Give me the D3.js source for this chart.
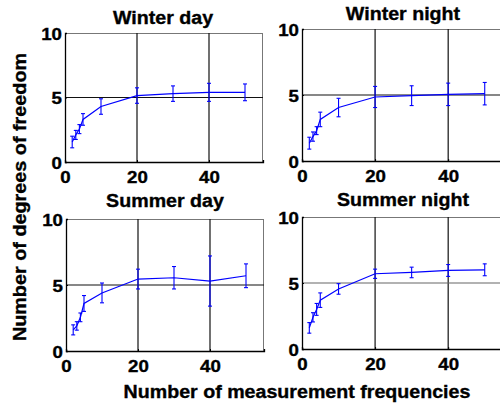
<!DOCTYPE html>
<html><head><meta charset="utf-8">
<script src="https://cdn.jsdelivr.net/npm/d3@7"></script>
<style>
html,body{margin:0;padding:0;background:#fff;overflow:hidden}
text{font-family:"Liberation Sans",Arial,sans-serif;font-weight:bold;fill:#000;stroke:#000;stroke-width:0.35px}
</style></head>
<body><svg id="c" width="500" height="404"></svg>
<script>
// ---- data ----
const freqs = [2, 3, 4, 5, 10, 20, 30, 40, 50];
const titles = ["Winter day", "Winter night", "Summer day", "Summer night"];
const winterDayMean   = [1.55, 2.1, 2.55, 3.3, 4.3, 5.15, 5.3, 5.4, 5.4];
const winterDayErr    = [0.45, 0.35, 0.35, 0.45, 0.6, 0.6, 0.6, 0.7, 0.65];
const winterNightMean = [1.35, 1.85, 2.3, 3.15, 4.05, 4.85, 4.95, 5.05, 5.1];
const winterNightErr  = [0.45, 0.35, 0.3, 0.55, 0.7, 0.8, 0.75, 0.85, 0.85];
const summerDayMean   = [1.6, 1.9, 2.55, 3.6, 4.4, 5.45, 5.55, 5.3, 5.7];
const summerDayErr    = [0.38, 0.32, 0.33, 0.6, 0.75, 0.75, 0.85, 1.9, 0.9];
const summerNightMean = [1.6, 2.4, 3.0, 3.7, 4.55, 5.7, 5.8, 5.95, 6.0];
const summerNightErr  = [0.4, 0.35, 0.45, 0.55, 0.4, 0.35, 0.4, 0.45, 0.45];
const xTicks = [0, 20, 40];
const yTicks = [0, 5, 10];
const xLabel = "Number of measurement frequencies";
const yLabel = "Number of degrees of freedom";

const means = [winterDayMean, winterNightMean, summerDayMean, summerNightMean];
const errs  = [winterDayErr, winterNightErr, summerDayErr, summerNightErr];

// ---- layout ----
const panels = [
  {l: 65,  r: 263, t: 33,  b: 162, tx: 163, ty: 24},
  {l: 302, r: 503, t: 29,  b: 161, tx: 403, ty: 20},
  {l: 66,  r: 264, t: 219, b: 351, tx: 165, ty: 207},
  {l: 302, r: 503, t: 217, b: 349, tx: 403, ty: 206}
];

const svg = d3.select("#c");
function stretch(sel, k) {
  sel.each(function() {
    const w = this.getComputedTextLength();
    d3.select(this).attr("textLength", w * k).attr("lengthAdjust", "spacingAndGlyphs");
  });
}

panels.forEach((p, i) => {
  const x = d3.scaleLinear().domain([0, 55]).range([p.l, p.r]);
  const y = d3.scaleLinear().domain([0, 10]).range([p.b, p.t]);
  const g = svg.append("g");

  // box top/right (gray)
  g.append("line").attr("x1", p.l).attr("x2", p.r).attr("y1", p.t + 0.5).attr("y2", p.t + 0.5)
    .attr("stroke", "#777").attr("stroke-width", 1);
  g.append("line").attr("x1", p.r - 0.5).attr("x2", p.r - 0.5).attr("y1", p.t).attr("y2", p.b)
    .attr("stroke", "#777").attr("stroke-width", 1);

  // grid
  xTicks.filter(v => v > 0).forEach(v => {
    g.append("line").attr("x1", x(v)).attr("x2", x(v)).attr("y1", p.t).attr("y2", p.b)
      .attr("stroke", "#111").attr("stroke-width", 1.2);
  });
  yTicks.filter(v => v > 0 && v < 10).forEach(v => {
    g.append("line").attr("x1", p.l).attr("x2", p.r).attr("y1", y(v)).attr("y2", y(v))
      .attr("stroke", i === 3 ? "#666" : "#111").attr("stroke-width", 1.2);
  });

  // axes
  const ax = g.append("g").attr("transform", `translate(0,${p.b})`)
    .call(d3.axisBottom(x).tickValues(xTicks).tickSize(-2).tickPadding(8));
  const ay = g.append("g").attr("transform", `translate(${p.l},0)`)
    .call(d3.axisLeft(y).tickValues(yTicks).tickSize(-2).tickPadding(3));
  [ax, ay].forEach(a => {
    a.select(".domain").attr("stroke", "#000").attr("stroke-width", 1.3);
    a.selectAll(".tick line").attr("stroke", "#000");
    a.selectAll("text").attr("font-size", 17).attr("font-family", "Liberation Sans, Arial, sans-serif")
      .attr("font-weight", "bold").attr("fill", "#000");
  });
  ax.selectAll("text").attr("dy", "0.71em").attr("y", 9);
  ay.selectAll("text").attr("dy", "0.36em");
  stretch(ax.selectAll("text"), 1.1);
  stretch(ay.selectAll("text"), 1.1);

  // title
  const tt = g.append("text").attr("x", p.tx).attr("y", p.ty).attr("text-anchor", "middle")
    .attr("font-size", 18).text(titles[i]);
  stretch(tt, 1.09);

  // data
  const data = freqs.map((f, j) => ({f, m: means[i][j], e: errs[i][j]}));
  const line = d3.line().x(d => x(d.f)).y(d => y(d.m));
  g.append("path").datum(data).attr("d", line).attr("fill", "none")
    .attr("stroke", "#0000ff").attr("stroke-width", 1.2);
  const eb = g.append("g").attr("stroke", "#0000ff").attr("stroke-width", 1.1);
  data.forEach(d => {
    const cx = x(d.f), y1 = y(d.m + d.e), y2 = y(d.m - d.e);
    eb.append("line").attr("x1", cx).attr("x2", cx).attr("y1", y1).attr("y2", y2);
    eb.append("line").attr("x1", cx - 2).attr("x2", cx + 2).attr("y1", y1).attr("y2", y1);
    eb.append("line").attr("x1", cx - 2).attr("x2", cx + 2).attr("y1", y2).attr("y2", y2);
  });
});

// shared labels
const xl = svg.append("text").attr("x", 297).attr("y", 398).attr("text-anchor", "middle")
  .attr("font-size", 18).text(xLabel);
stretch(xl, 1.09);
const yl = svg.append("text").attr("transform", "translate(26,197) rotate(-90)")
  .attr("text-anchor", "middle").attr("font-size", 18).text(yLabel);
stretch(yl, 1.1);
</script></body></html>
